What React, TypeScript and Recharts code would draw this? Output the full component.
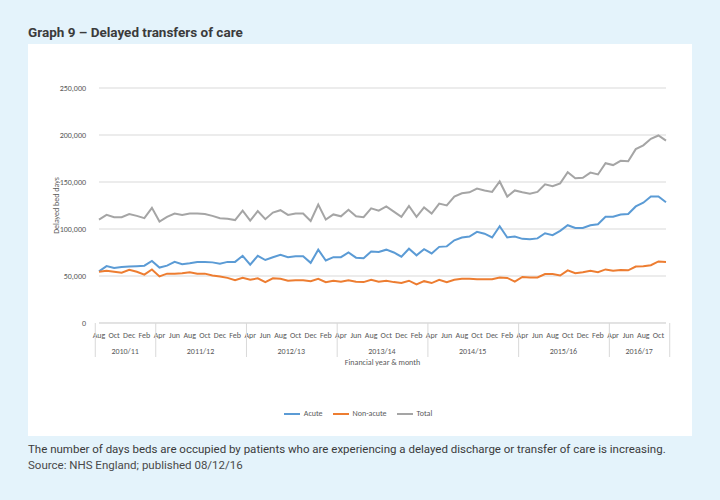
import React from 'react';
import { LineChart, Line, XAxis, YAxis, CartesianGrid, Legend } from 'recharts';

// Aug 2010 .. Nov 2016, one point per month
const months = [
  'Aug', 'Sep', 'Oct', 'Nov', 'Dec', 'Jan', 'Feb', 'Mar',
  'Apr', 'May', 'Jun', 'Jul', 'Aug', 'Sep', 'Oct', 'Nov', 'Dec', 'Jan', 'Feb', 'Mar',
  'Apr', 'May', 'Jun', 'Jul', 'Aug', 'Sep', 'Oct', 'Nov', 'Dec', 'Jan', 'Feb', 'Mar',
  'Apr', 'May', 'Jun', 'Jul', 'Aug', 'Sep', 'Oct', 'Nov', 'Dec', 'Jan', 'Feb', 'Mar',
  'Apr', 'May', 'Jun', 'Jul', 'Aug', 'Sep', 'Oct', 'Nov', 'Dec', 'Jan', 'Feb', 'Mar',
  'Apr', 'May', 'Jun', 'Jul', 'Aug', 'Sep', 'Oct', 'Nov', 'Dec', 'Jan', 'Feb', 'Mar',
  'Apr', 'May', 'Jun', 'Jul', 'Aug', 'Sep', 'Oct', 'Nov',
];

const years = ['2010/11', '2011/12', '2012/13', '2013/14', '2014/15', '2015/16', '2016/17'];

const acute = [
  55000, 60500, 58500, 59500, 60000, 60500, 61000, 66000,
  59000, 61000, 65000, 62500, 63500, 65000, 65000, 64500, 63000, 65000, 65000, 71500,
  62000, 71500, 67000, 70000, 72500, 70000, 71000, 71000, 64000, 78000, 66500, 70000,
  70000, 75000, 69500, 69000, 76000, 75500, 78000, 75000, 70500, 79000, 72000, 78500,
  74000, 81000, 81500, 88000, 91000, 92000, 97000, 95000, 91000, 103000, 91000, 92000,
  89500, 89000, 90000, 95500, 93500, 98000, 104000, 101000, 101000, 104000, 105000, 113000,
  113000, 115500, 116000, 124000, 128000, 134500, 134500, 128500,
];

const nonAcute = [
  54500, 55500, 54500, 53500, 56500, 54500, 51500, 57000,
  49500, 52500, 52500, 53000, 54000, 52500, 52500, 50500, 49500, 48000, 45500, 48000,
  46000, 47500, 43500, 47500, 47000, 45000, 45500, 45500, 44500, 47000, 43500, 45000,
  44000, 45500, 44000, 43500, 46000, 44000, 45000, 43500, 42500, 45000, 41000, 44500,
  42500, 46000, 43500, 46000, 47000, 47000, 46500, 46500, 46500, 48500, 48000, 44000,
  49000, 48500, 48500, 52000, 52000, 50500, 56000, 53000, 54000, 55500, 54000, 57000,
  55500, 56500, 56000, 60000, 60500, 61500, 65500, 65000,
];

const total = [
  110000, 115000, 112500, 112500, 116000, 114000, 111500, 122500,
  108000, 113000, 116500, 115000, 116500, 116500, 116000, 114000, 111500, 111000, 109500, 119500,
  109000, 119000, 110500, 117500, 120000, 115000, 116500, 116500, 108500, 126000, 110000, 115500,
  113500, 120500, 113500, 112500, 122000, 119500, 124000, 118500, 113000, 124500, 113000, 123000,
  116500, 127000, 125000, 134500, 138000, 139000, 143000, 141000, 139500, 150500, 134500, 141000,
  139000, 137500, 139500, 147500, 145500, 148500, 160500, 154000, 154500, 160000, 158000, 170000,
  168000, 172500, 172000, 185000, 189000, 196000, 199500, 194000,
];

const yTicks = [0, 50000, 100000, 150000, 200000, 250000];

const data = months.map((m, i) => ({
  month: m,
  acute: acute[i],
  nonAcute: nonAcute[i],
  total: total[i],
}));

const FONT = "Carlito, 'Liberation Sans Narrow', Roboto, sans-serif";
const AXIS_TEXT = '#595959';
const GRID = '#d9d9d9';

function MonthTick(props: any) {
  const { x, y, payload, index, width } = props;
  const i = index ?? payload.index;
  const half = payload.offset || width / (2 * months.length);
  const parts: React.ReactNode[] = [];
  if (i % 2 === 0) {
    parts.push(
      <text key="m" x={x} y={y + 15} textAnchor="middle" fontSize={8} fill={AXIS_TEXT} fontFamily={FONT}>
        {months[i]}
      </text>
    );
  }
  if (i === 0 || months[i] === 'Apr') {
    let len = 1;
    while (i + len < months.length && months[i + len] !== 'Apr') len++;
    const yearIdx = months.slice(1, i + 1).filter((m) => m === 'Apr').length;
    const left = x - half;
    parts.push(<line key="s" x1={left} x2={left} y1={y} y2={y + 34} stroke={GRID} />);
    parts.push(
      <text key="y" x={left + len * half} y={y + 31} textAnchor="middle" fontSize={8} fill={AXIS_TEXT} fontFamily={FONT}>
        {years[yearIdx]}
      </text>
    );
  }
  if (i === months.length - 1) {
    parts.push(<line key="e" x1={x + half} x2={x + half} y1={y} y2={y + 34} stroke={GRID} />);
  }
  return <g>{parts}</g>;
}

function XTitle(props: any) {
  const { x, y, width } = props.viewBox;
  return (
    <text x={x + width / 2} y={y + 42} textAnchor="middle" fontSize={8} fill={AXIS_TEXT} fontFamily={FONT}>
      Financial year &amp; month
    </text>
  );
}

function YTitle(props: any) {
  const { y, height } = props.viewBox;
  const cx = 31;
  const cy = y + height / 2;
  return (
    <text x={cx} y={cy} transform={`rotate(-90 ${cx} ${cy})`} textAnchor="middle" fontSize={8} fill={AXIS_TEXT} fontFamily={FONT}>
      Delayed bed days
    </text>
  );
}

export default function App() {
  return (
    <div
      style={{
        position: 'absolute',
        left: 0,
        top: 0,
        width: 720,
        height: 500,
        background: '#e4f3fb',
        fontFamily: 'Roboto, sans-serif',
      }}
    >
      <div style={{ position: 'absolute', left: 28, top: 24, fontSize: 13.5, fontWeight: 700, color: '#3b3b3b' }}>
        Graph 9 – Delayed transfers of care
      </div>
      <div style={{ position: 'absolute', left: 28, top: 44, width: 664, height: 392, background: '#fff' }}>
        <LineChart width={664} height={392} data={data} margin={{ top: 44, right: 26, left: 0, bottom: 57 }}>
          <CartesianGrid vertical={false} stroke={GRID} />
          <XAxis
            dataKey="month"
            interval={0}
            tickLine={false}
            tickSize={0}
            tickMargin={0}
            height={56}
            stroke={GRID}
            tick={<MonthTick />}
            label={<XTitle />}
          />
          <YAxis
            domain={[0, 250000]}
            ticks={yTicks}
            width={71}
            axisLine={false}
            tickLine={false}
            tickMargin={7}
            tick={{ fontSize: 8, fill: AXIS_TEXT, fontFamily: FONT }}
            tickFormatter={(v: number) => v.toLocaleString('en-US')}
            label={<YTitle />}
          />
          <Legend
            verticalAlign="middle"
            align="center"
            iconType="plainline"
            iconSize={16}
            wrapperStyle={{ top: 362, left: 3, width: 664, fontSize: 8, fontFamily: FONT }}
            formatter={(value: string) => <span style={{ color: AXIS_TEXT }}>{value}</span>}
          />
          <Line name="Acute" dataKey="acute" stroke="#5b9bd5" strokeWidth={2} dot={false} isAnimationActive={false} />
          <Line name="Non-acute" dataKey="nonAcute" stroke="#ed7d31" strokeWidth={2} dot={false} isAnimationActive={false} />
          <Line name="Total" dataKey="total" stroke="#a5a5a5" strokeWidth={2} dot={false} isAnimationActive={false} />
        </LineChart>
      </div>
      <div style={{ position: 'absolute', left: 28, top: 441, fontSize: 11.5, color: '#3b3b3b', lineHeight: '16px' }}>
        The number of days beds are occupied by patients who are experiencing a delayed discharge or transfer of care is increasing.
        <br />
        <span style={{ color: '#4a4a4a' }}>Source: NHS England; published 08/12/16</span>
      </div>
    </div>
  );
}
